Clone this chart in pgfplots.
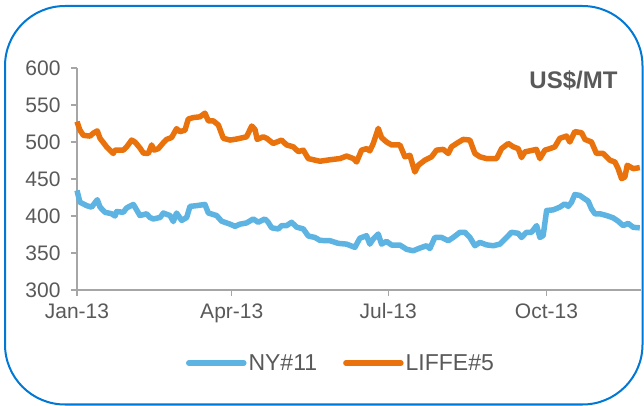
\documentclass[border=0pt]{standalone}
\usepackage{fontspec}
\setmainfont{Liberation Sans}
\usepackage{pgfplots}
\pgfplotsset{compat=1.18}
\definecolor{nyblue}{RGB}{93,180,226}
\definecolor{liffe}{RGB}{234,114,12}
\definecolor{txtgray}{RGB}{89,89,89}
\definecolor{axgray}{RGB}{166,166,166}
\definecolor{framecol}{RGB}{0,120,212}

% day 0 = 1 Jan 2013
\pgfplotstableread{
day val
0 434.6
1.7 418.7
5.6 414
8.5 412
11.8 422
13.4 412
16.3 405
20.2 403
22.1 400
23.1 406
26.9 405
28.9 411
32.8 415.6
36.6 400.6
40.5 403
42.4 398
44.4 396
48.3 398
50.2 404
54.1 400.6
56.0 392.5
57.9 404
60.9 394
63.8 398
65.7 413
69.6 414
74.4 415.6
76.4 404
81.2 400.6
84.1 393
89.0 389
91.9 386
94.8 389
98.6 390.6
102.5 396
105.4 391.5
109.3 396
111.2 391.5
113.2 384
117.1 382.5
119.0 387
121.9 387
124.8 391.5
127.7 385
131.6 382.5
134.5 373
138.4 371
141.3 367
147.1 366.6
152.0 363
156.8 362
161.6 357.6
164.5 370
168.4 373.4
170.3 362
172.3 369
175.2 375.7
177.1 362
180.0 365.7
183.0 360.7
187.8 360.7
191.7 355
195.5 353
199.4 356.7
203.3 359.8
205.2 356
208.1 371
212.0 371
215.9 366.6
218.8 371
222.7 378
225.6 378
228.5 371
231.4 359.8
234.3 364.4
238.2 361
242.1 359.8
245.9 362
249.8 371
252.7 378
256.6 376.6
258.5 371
261.4 378
264.3 378
267.3 387
269.2 371
271.1 373.4
273.1 407.4
277.0 408.3
280.8 412
283.7 416.5
285.7 413
287.6 418.7
289.5 429
292.4 427.8
295.4 423
297.3 420
299.2 409.7
301.2 403
304.1 403
308.0 400.6
311.8 397.5
314.7 393
317.6 387
320.5 390
323.5 384.7
327.3 384
}\nyeleven

\pgfplotstableread{
day val
0 527.5
1.7 516
3.7 509
7.6 508
9.5 512
11.8 515
13.4 505
17.2 493.5
21.1 484.5
22.1 489
26.9 489
28.9 493.5
31.8 502.6
33.7 500
36.6 492
38.6 485
41.5 484.5
43.4 496
44.8 489
47.3 491
50.2 499
52.1 503.5
55.0 506
57.9 518
59.9 514
62.8 516
64.7 531
67.6 533
71.5 534
74.4 539
76.4 528.5
79.3 528.5
82.2 523
85.1 505
89.0 502.6
92.8 504
98.6 507
101.6 521.6
103.5 517
104.8 503.5
108.3 507
110.3 505
114.1 498
119.0 502.6
121.9 496
125.8 493.5
128.7 487
131.6 489
134.5 477.6
141.3 474
147.1 476
152.9 477.6
156.8 481
160.7 477.6
162.6 473
165.5 489
168.4 491
170.3 488
172.3 498
175.2 518.4
177.1 506
180.0 500
183.0 496
187.8 496
190.7 480
193.6 482
196.5 459.5
198.5 468.6
202.3 475.4
206.2 480
209.1 489
213.0 490
215.9 484.5
217.8 493.5
220.7 498
224.6 503.5
228.5 502.6
231.4 484.5
234.3 480
238.2 477.6
244.0 477.6
246.9 491
250.8 498
253.7 493.5
256.6 491
258.5 479
260.5 486.7
265.3 489
267.2 490
269.2 477.6
272.1 489
275.0 491
277.9 493.5
280.8 505
284.7 508
286.6 500
289.5 514
293.4 512.6
295.4 503.5
299.2 500
302.1 484.5
306.0 484.5
309.9 475.4
312.8 473
314.7 464
316.7 450.5
318.6 452.6
320.0 468.6
323.5 464
327.3 465.4
}\liffefive

\begin{document}
\begin{tikzpicture}
\useasboundingbox (0,0) rectangle (644bp,406bp);
\draw[framecol, line width=2bp, rounded corners=60bp] (5bp,1.5bp) rectangle (642.5bp,400bp);
\begin{axis}[
  at={(77bp,116bp)}, anchor=south west,
  scale only axis, width=564bp, height=222bp,
  xmin=0, xmax=328, ymin=300, ymax=600,
  axis lines=left, axis line style={-, axgray, line width=1.3bp},
  tick align=outside, major tick length=6bp,
  tick style={axgray, line width=1.3bp},
  xtick={0,90,181,273},
  xticklabels={Jan-13,Apr-13,Jul-13,Oct-13},
  ytick={300,350,...,600},
  /pgf/number format/assume math mode=true,
  tick label style={font=\fontsize{21bp}{24bp}\selectfont, text=txtgray},
  yticklabel style={xshift=-7bp},
  xticklabel style={yshift=-4bp},
  clip=false,
  legend columns=2,
  legend style={at={(0.468,-0.329)}, anchor=center, draw=none, fill=none,
    font=\fontsize{23bp}{26bp}\selectfont, text=txtgray,
    /tikz/every even column/.append style={column sep=24bp},
    nodes={inner sep=2bp}},
  legend image code/.code={\draw[#1, line width=5.5bp, line cap=round] (0bp,0bp) -- (55bp,0bp);},
]
\addplot[nyblue, line width=5.5bp, line join=round] table[x=day,y=val] {\nyeleven};
\addlegendentry{NY\#11}
\addplot[liffe, line width=5.5bp, line join=round] table[x=day,y=val] {\liffefive};
\addlegendentry{LIFFE\#5}
\end{axis}
\node[anchor=east, text=txtgray, font=\bfseries\fontsize{24bp}{28bp}\selectfont] at (621bp,326bp) {US\$/MT};
\end{tikzpicture}
\end{document}
